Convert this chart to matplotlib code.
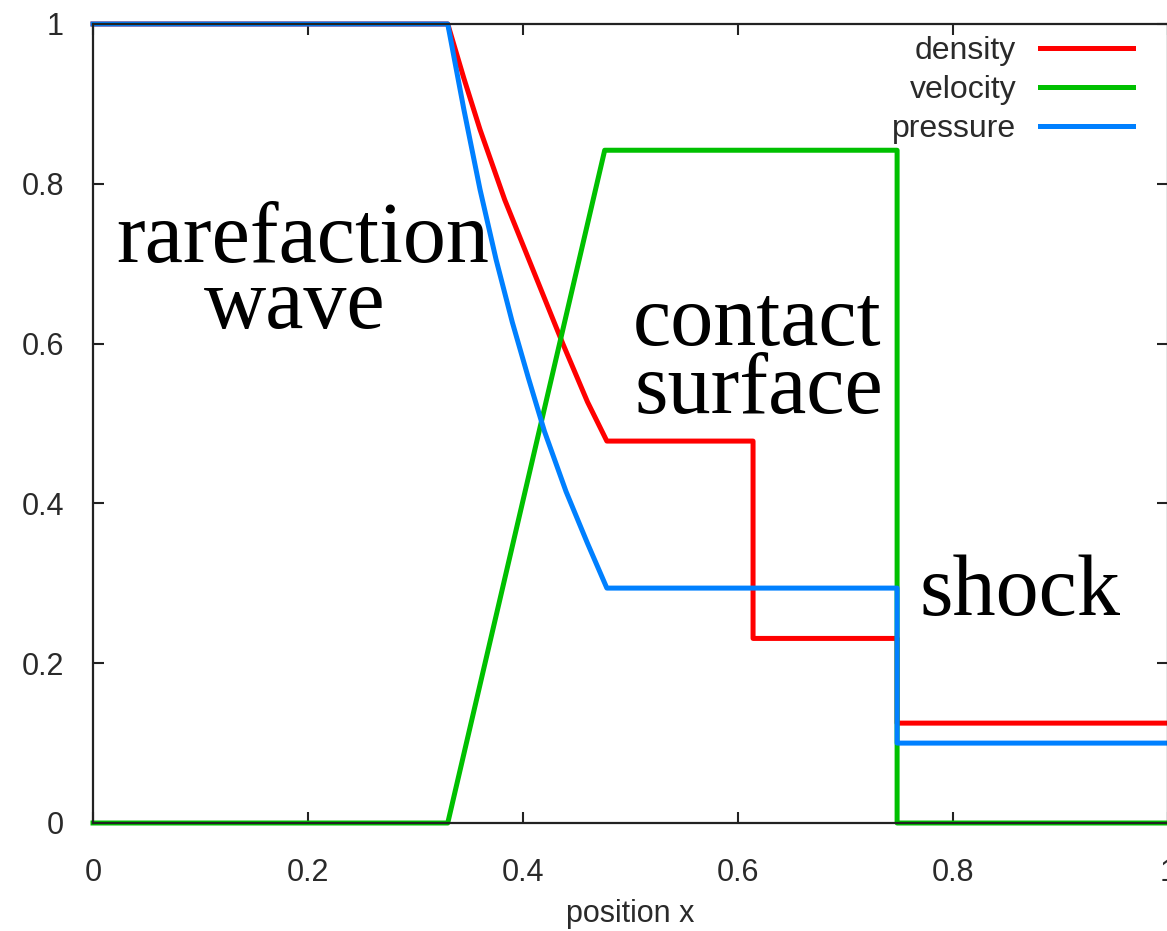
import matplotlib
matplotlib.use("Agg")
import matplotlib.pyplot as plt
from matplotlib.ticker import FuncFormatter

# values (Sod-type shock tube snapshot)
density_x = [0.0, 0.330, 0.345, 0.360, 0.383, 0.410, 0.437, 0.460, 0.478, 0.614, 0.614, 0.748, 0.748, 1.0]
density_y = [1.0, 1.0, 0.932, 0.868, 0.780, 0.690, 0.600, 0.527, 0.478, 0.478, 0.231, 0.231, 0.125, 0.125]

velocity_x = [0.0, 0.330, 0.476, 0.748, 0.748, 1.0]
velocity_y = [0.0, 0.0, 0.842, 0.842, 0.0, 0.0]

pressure_x = [0.0, 0.330, 0.345, 0.360, 0.375, 0.390, 0.405, 0.420, 0.440, 0.460, 0.478, 0.748, 0.748, 1.0]
pressure_y = [1.0, 1.0, 0.893, 0.793, 0.705, 0.627, 0.557, 0.490, 0.415, 0.350, 0.294, 0.294, 0.100, 0.100]

ticks = [0, 0.2, 0.4, 0.6, 0.8, 1.0]

# annotation text: (label, x, y, ha)
notes = [
    ("rarefaction", 0.1953, 0.702, "center"),
    ("wave", 0.188, 0.6195, "center"),
    ("contact", 0.6177, 0.598, "center"),
    ("surface", 0.619, 0.513, "center"),
    ("shock", 0.769, 0.260, "left"),
]

plt.rcParams["font.family"] = ["Liberation Sans", "DejaVu Sans"]

fig = plt.figure(figsize=(11.67, 9.31), dpi=100)
ax = fig.add_axes([93 / 1167, 108 / 931, 1075 / 1167, 799 / 931])

lw = 3.6
ax.plot(density_x, density_y, color="#ff0000", lw=lw, label="density", clip_on=False)
ax.plot(velocity_x, velocity_y, color="#00c000", lw=lw, label="velocity", clip_on=False)
ax.plot(pressure_x, pressure_y, color="#0080ff", lw=lw, label="pressure", clip_on=False)

ax.set_xlim(0, 1)
ax.set_ylim(0, 1)
ax.set_xticks(ticks)
ax.set_yticks(ticks)
ax.xaxis.set_major_formatter(FuncFormatter(lambda v, p: f"{v:g}"))
ax.yaxis.set_major_formatter(FuncFormatter(lambda v, p: f"{v:g}"))
ax.tick_params(direction="in", length=8, width=1.5, top=True, right=True,
               labelsize=22, labelcolor="#2a2a2a", color="#222222")
ax.tick_params(axis="y", pad=21)
ax.tick_params(axis="x", pad=25)
for s in ax.spines.values():
    s.set_linewidth(1.6)
    s.set_color("#222222")

ax.set_xlabel("position x", fontsize=22, color="#2a2a2a", labelpad=8)

for label, x, y, ha in notes:
    ax.text(x, y, label, ha=ha, va="baseline", fontsize=62,
            family=["Liberation Serif", "DejaVu Serif"], color="black")

ax.legend(loc="upper right", bbox_to_anchor=(0.9673, 0.985), frameon=False,
          markerfirst=False, fontsize=23, handlelength=2.9, handletextpad=0.75,
          labelspacing=0.28, borderpad=0, borderaxespad=0, labelcolor="#2a2a2a")

fig.savefig("out.png", dpi=100)
